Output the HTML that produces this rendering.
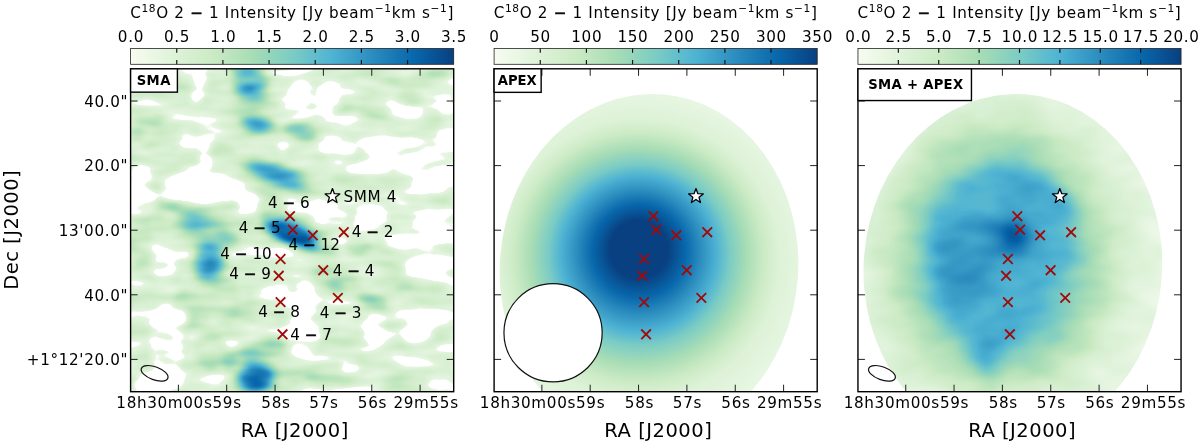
<!DOCTYPE html><html><head><meta charset="utf-8"><title>C18O maps</title><style>html,body{margin:0;padding:0;background:#fff;width:1200px;height:445px;overflow:hidden}svg{display:block}text{font-family:"DejaVu Sans","Liberation Sans",sans-serif;fill:#000}</style></head><body><svg width="1200" height="445" viewBox="0 0 1200 445"><defs><linearGradient id="cbg" x1="0" y1="0" x2="1" y2="0"><stop offset="0.0000" stop-color="#f7fcf0"/><stop offset="0.1250" stop-color="#e0f3db"/><stop offset="0.2500" stop-color="#ccebc5"/><stop offset="0.3750" stop-color="#a8ddb5"/><stop offset="0.5000" stop-color="#7bccc4"/><stop offset="0.6250" stop-color="#4eb3d3"/><stop offset="0.7500" stop-color="#2b8cbe"/><stop offset="0.8750" stop-color="#0868ac"/><stop offset="1.0000" stop-color="#084081"/></linearGradient><clipPath id="clip0"><rect x="130.60" y="68.80" width="323.10" height="322.90"/></clipPath><clipPath id="clip1"><rect x="494.10" y="68.80" width="323.10" height="322.90"/></clipPath><clipPath id="clip2"><rect x="857.95" y="68.80" width="323.10" height="322.90"/></clipPath><g id="xm"><path d="M-4.8 -4.8L4.8 4.8M-4.8 4.8L4.8 -4.8" stroke="#a00a0a" stroke-width="1.8" stroke-linecap="butt"/></g><polygon id="star" points="0.00,-7.70 1.90,-2.62 7.32,-2.38 3.08,1.00 4.53,6.23 0.00,3.23 -4.53,6.23 -3.08,1.00 -7.32,-2.38 -1.90,-2.62" fill="#fff" stroke="#000" stroke-width="1.3" stroke-linejoin="round"/></defs><text x="292.15" y="17.7" font-size="15.2" letter-spacing="0.65" text-anchor="middle">C<tspan font-size="10.6" dy="-5.5">18</tspan><tspan dy="5.5">O 2 <tspan stroke="#000" stroke-width="0.4">−</tspan> 1 Intensity [Jy beam</tspan><tspan font-size="10.6" dy="-5.5">−1</tspan><tspan dy="5.5">km s</tspan><tspan font-size="10.6" dy="-5.5">−1</tspan><tspan dy="5.5">]</tspan></text><rect x="130.60" y="48.50" width="323.10" height="15.80" fill="url(#cbg)" stroke="#222" stroke-width="0.8"/><text x="130.92" y="42.0" font-size="15.2" letter-spacing="0.65" text-anchor="middle">0.0</text><text x="177.08" y="42.0" font-size="15.2" letter-spacing="0.65" text-anchor="middle">0.5</text><path d="M176.76 48.50v4.2M176.76 64.30v-4.2" stroke="#111" stroke-width="1.15"/><text x="223.24" y="42.0" font-size="15.2" letter-spacing="0.65" text-anchor="middle">1.0</text><path d="M222.91 48.50v4.2M222.91 64.30v-4.2" stroke="#111" stroke-width="1.15"/><text x="269.40" y="42.0" font-size="15.2" letter-spacing="0.65" text-anchor="middle">1.5</text><path d="M269.07 48.50v4.2M269.07 64.30v-4.2" stroke="#111" stroke-width="1.15"/><text x="315.55" y="42.0" font-size="15.2" letter-spacing="0.65" text-anchor="middle">2.0</text><path d="M315.23 48.50v4.2M315.23 64.30v-4.2" stroke="#111" stroke-width="1.15"/><text x="361.71" y="42.0" font-size="15.2" letter-spacing="0.65" text-anchor="middle">2.5</text><path d="M361.39 48.50v4.2M361.39 64.30v-4.2" stroke="#111" stroke-width="1.15"/><text x="407.87" y="42.0" font-size="15.2" letter-spacing="0.65" text-anchor="middle">3.0</text><path d="M407.54 48.50v4.2M407.54 64.30v-4.2" stroke="#111" stroke-width="1.15"/><text x="454.03" y="42.0" font-size="15.2" letter-spacing="0.65" text-anchor="middle">3.5</text><text x="655.65" y="17.7" font-size="15.2" letter-spacing="0.65" text-anchor="middle">C<tspan font-size="10.6" dy="-5.5">18</tspan><tspan dy="5.5">O 2 <tspan stroke="#000" stroke-width="0.4">−</tspan> 1 Intensity [Jy beam</tspan><tspan font-size="10.6" dy="-5.5">−1</tspan><tspan dy="5.5">km s</tspan><tspan font-size="10.6" dy="-5.5">−1</tspan><tspan dy="5.5">]</tspan></text><rect x="494.10" y="48.50" width="323.10" height="15.80" fill="url(#cbg)" stroke="#222" stroke-width="0.8"/><text x="494.43" y="42.0" font-size="15.2" letter-spacing="0.65" text-anchor="middle">0</text><text x="540.58" y="42.0" font-size="15.2" letter-spacing="0.65" text-anchor="middle">50</text><path d="M540.26 48.50v4.2M540.26 64.30v-4.2" stroke="#111" stroke-width="1.15"/><text x="586.74" y="42.0" font-size="15.2" letter-spacing="0.65" text-anchor="middle">100</text><path d="M586.41 48.50v4.2M586.41 64.30v-4.2" stroke="#111" stroke-width="1.15"/><text x="632.90" y="42.0" font-size="15.2" letter-spacing="0.65" text-anchor="middle">150</text><path d="M632.57 48.50v4.2M632.57 64.30v-4.2" stroke="#111" stroke-width="1.15"/><text x="679.05" y="42.0" font-size="15.2" letter-spacing="0.65" text-anchor="middle">200</text><path d="M678.73 48.50v4.2M678.73 64.30v-4.2" stroke="#111" stroke-width="1.15"/><text x="725.21" y="42.0" font-size="15.2" letter-spacing="0.65" text-anchor="middle">250</text><path d="M724.89 48.50v4.2M724.89 64.30v-4.2" stroke="#111" stroke-width="1.15"/><text x="771.37" y="42.0" font-size="15.2" letter-spacing="0.65" text-anchor="middle">300</text><path d="M771.04 48.50v4.2M771.04 64.30v-4.2" stroke="#111" stroke-width="1.15"/><text x="817.53" y="42.0" font-size="15.2" letter-spacing="0.65" text-anchor="middle">350</text><text x="1019.50" y="17.7" font-size="15.2" letter-spacing="0.65" text-anchor="middle">C<tspan font-size="10.6" dy="-5.5">18</tspan><tspan dy="5.5">O 2 <tspan stroke="#000" stroke-width="0.4">−</tspan> 1 Intensity [Jy beam</tspan><tspan font-size="10.6" dy="-5.5">−1</tspan><tspan dy="5.5">km s</tspan><tspan font-size="10.6" dy="-5.5">−1</tspan><tspan dy="5.5">]</tspan></text><rect x="857.95" y="48.50" width="323.10" height="15.80" fill="url(#cbg)" stroke="#222" stroke-width="0.8"/><text x="858.28" y="42.0" font-size="15.2" letter-spacing="0.65" text-anchor="middle">0.0</text><text x="898.66" y="42.0" font-size="15.2" letter-spacing="0.65" text-anchor="middle">2.5</text><path d="M898.34 48.50v4.2M898.34 64.30v-4.2" stroke="#111" stroke-width="1.15"/><text x="939.05" y="42.0" font-size="15.2" letter-spacing="0.65" text-anchor="middle">5.0</text><path d="M938.73 48.50v4.2M938.73 64.30v-4.2" stroke="#111" stroke-width="1.15"/><text x="979.44" y="42.0" font-size="15.2" letter-spacing="0.65" text-anchor="middle">7.5</text><path d="M979.11 48.50v4.2M979.11 64.30v-4.2" stroke="#111" stroke-width="1.15"/><text x="1019.83" y="42.0" font-size="15.2" letter-spacing="0.65" text-anchor="middle">10.0</text><path d="M1019.50 48.50v4.2M1019.50 64.30v-4.2" stroke="#111" stroke-width="1.15"/><text x="1060.21" y="42.0" font-size="15.2" letter-spacing="0.65" text-anchor="middle">12.5</text><path d="M1059.89 48.50v4.2M1059.89 64.30v-4.2" stroke="#111" stroke-width="1.15"/><text x="1100.60" y="42.0" font-size="15.2" letter-spacing="0.65" text-anchor="middle">15.0</text><path d="M1100.28 48.50v4.2M1100.28 64.30v-4.2" stroke="#111" stroke-width="1.15"/><text x="1140.99" y="42.0" font-size="15.2" letter-spacing="0.65" text-anchor="middle">17.5</text><path d="M1140.66 48.50v4.2M1140.66 64.30v-4.2" stroke="#111" stroke-width="1.15"/><text x="1181.38" y="42.0" font-size="15.2" letter-spacing="0.65" text-anchor="middle">20.0</text><g clip-path="url(#clip0)"><defs><filter id="cm0" x="120.60" y="58.80" width="343.10" height="342.90" filterUnits="userSpaceOnUse" color-interpolation-filters="sRGB"><feGaussianBlur in="SourceGraphic" stdDeviation="3.2" result="bl"/><feTurbulence type="fractalNoise" baseFrequency="0.022 0.065" numOctaves="2" seed="7" result="tn"/><feColorMatrix in="tn" type="matrix" values="1 0 0 0 0  1 0 0 0 0  1 0 0 0 0  0 0 0 0 1" result="tg"/><feComposite in="bl" in2="tg" operator="arithmetic" k1="0" k2="1" k3="0.450" k4="-0.225"/><feComponentTransfer><feFuncR type="table" tableValues="1.000 1.000 1.000 1.000 1.000 1.000 0.902 0.890 0.878 0.871 0.859 0.847 0.839 0.831 0.820 0.808 0.800 0.784 0.765 0.745 0.729 0.714 0.694 0.675 0.659 0.635 0.616 0.592 0.573 0.549 0.525 0.506 0.482 0.459 0.439 0.416 0.392 0.373 0.349 0.329 0.306 0.290 0.271 0.255 0.235 0.220 0.204 0.184 0.169 0.153 0.133 0.118 0.102 0.082 0.067 0.047 0.031 0.031 0.031 0.031 0.031 0.031 0.031 0.031 0.031"/><feFuncG type="table" tableValues="1.000 1.000 1.000 1.000 1.000 1.000 0.961 0.957 0.953 0.949 0.945 0.941 0.937 0.933 0.929 0.925 0.922 0.914 0.910 0.902 0.894 0.886 0.878 0.875 0.867 0.859 0.851 0.843 0.831 0.824 0.816 0.808 0.800 0.788 0.776 0.765 0.753 0.737 0.725 0.714 0.702 0.682 0.663 0.643 0.627 0.608 0.588 0.569 0.549 0.533 0.514 0.494 0.478 0.463 0.443 0.424 0.408 0.388 0.369 0.349 0.329 0.310 0.290 0.271 0.251"/><feFuncB type="table" tableValues="1.000 1.000 1.000 1.000 1.000 1.000 0.878 0.871 0.859 0.847 0.839 0.827 0.816 0.804 0.792 0.784 0.773 0.765 0.757 0.749 0.741 0.733 0.725 0.718 0.710 0.718 0.725 0.733 0.737 0.745 0.753 0.761 0.769 0.776 0.784 0.792 0.800 0.804 0.812 0.820 0.827 0.816 0.808 0.796 0.784 0.776 0.765 0.757 0.745 0.737 0.729 0.718 0.710 0.702 0.690 0.682 0.675 0.655 0.631 0.612 0.588 0.569 0.549 0.525 0.506"/></feComponentTransfer></filter><radialGradient id="b0_0"><stop offset="0" stop-color="#b2b2b2"/><stop offset="0.5" stop-color="#8b8b8b" stop-opacity="0.95"/><stop offset="1" stop-color="#535353" stop-opacity="0"/></radialGradient><radialGradient id="b0_1"><stop offset="0" stop-color="#b2b2b2"/><stop offset="0.5" stop-color="#8b8b8b" stop-opacity="0.95"/><stop offset="1" stop-color="#535353" stop-opacity="0"/></radialGradient><radialGradient id="b0_2"><stop offset="0" stop-color="#b6b6b6"/><stop offset="0.5" stop-color="#8e8e8e" stop-opacity="0.95"/><stop offset="1" stop-color="#535353" stop-opacity="0"/></radialGradient><radialGradient id="b0_3"><stop offset="0" stop-color="#cccccc"/><stop offset="0.5" stop-color="#9f9f9f" stop-opacity="0.95"/><stop offset="1" stop-color="#535353" stop-opacity="0"/></radialGradient><radialGradient id="b0_4"><stop offset="0" stop-color="#ffffff"/><stop offset="0.5" stop-color="#f9f9f9" stop-opacity="0.95"/><stop offset="1" stop-color="#535353" stop-opacity="0"/></radialGradient><radialGradient id="b0_5"><stop offset="0" stop-color="#cfcfcf"/><stop offset="0.5" stop-color="#a2a2a2" stop-opacity="0.95"/><stop offset="1" stop-color="#535353" stop-opacity="0"/></radialGradient><radialGradient id="b0_6"><stop offset="0" stop-color="#cfcfcf"/><stop offset="0.5" stop-color="#a2a2a2" stop-opacity="0.95"/><stop offset="1" stop-color="#535353" stop-opacity="0"/></radialGradient><radialGradient id="b0_7"><stop offset="0" stop-color="#a3a3a3"/><stop offset="0.5" stop-color="#7f7f7f" stop-opacity="0.95"/><stop offset="1" stop-color="#535353" stop-opacity="0"/></radialGradient><radialGradient id="b0_8"><stop offset="0" stop-color="#999999"/><stop offset="0.5" stop-color="#777777" stop-opacity="0.95"/><stop offset="1" stop-color="#535353" stop-opacity="0"/></radialGradient><radialGradient id="b0_9"><stop offset="0" stop-color="#ffffff"/><stop offset="0.5" stop-color="#d6d6d6" stop-opacity="0.95"/><stop offset="1" stop-color="#535353" stop-opacity="0"/></radialGradient><radialGradient id="b0_10"><stop offset="0" stop-color="#898989"/><stop offset="0.5" stop-color="#6b6b6b" stop-opacity="0.95"/><stop offset="1" stop-color="#535353" stop-opacity="0"/></radialGradient><radialGradient id="b0_11"><stop offset="0" stop-color="#838383"/><stop offset="0.5" stop-color="#666666" stop-opacity="0.95"/><stop offset="1" stop-color="#535353" stop-opacity="0"/></radialGradient><radialGradient id="b0_12"><stop offset="0" stop-color="#898989"/><stop offset="0.5" stop-color="#6b6b6b" stop-opacity="0.95"/><stop offset="1" stop-color="#535353" stop-opacity="0"/></radialGradient><radialGradient id="b0_13"><stop offset="0" stop-color="#868686"/><stop offset="0.5" stop-color="#686868" stop-opacity="0.95"/><stop offset="1" stop-color="#535353" stop-opacity="0"/></radialGradient><radialGradient id="b0_14"><stop offset="0" stop-color="#808080"/><stop offset="0.5" stop-color="#636363" stop-opacity="0.95"/><stop offset="1" stop-color="#535353" stop-opacity="0"/></radialGradient><radialGradient id="b0_15"><stop offset="0" stop-color="#797979"/><stop offset="0.5" stop-color="#5e5e5e" stop-opacity="0.95"/><stop offset="1" stop-color="#535353" stop-opacity="0"/></radialGradient><linearGradient id="p1base" x1="0" y1="0" x2="1" y2="0"><stop offset="0" stop-color="#292929"/><stop offset="0.55" stop-color="#292929"/><stop offset="1" stop-color="#212121"/></linearGradient></defs><g filter="url(#cm0)"><rect x="120.60" y="58.80" width="343.10" height="342.90" fill="url(#p1base)"/><ellipse cx="150.10" cy="119.00" rx="16.00" ry="7.00" fill="#565656" opacity="0.8"/><ellipse cx="161.10" cy="147.00" rx="18.00" ry="8.00" fill="#535353" opacity="0.8"/><ellipse cx="137.10" cy="133.00" rx="8.00" ry="9.00" fill="#535353" opacity="0.8"/><ellipse cx="215.10" cy="99.00" rx="18.00" ry="7.00" fill="#494949" opacity="0.8"/><ellipse cx="374.10" cy="112.00" rx="16.00" ry="8.00" fill="#535353" transform="rotate(10.0 374.10 112.00)" opacity="0.8"/><ellipse cx="410.10" cy="98.00" rx="13.00" ry="7.00" fill="#535353" opacity="0.8"/><ellipse cx="205.10" cy="207.00" rx="38.00" ry="8.00" fill="#535353" opacity="0.8"/><ellipse cx="358.10" cy="246.00" rx="13.00" ry="10.00" fill="#5c5c5c" opacity="0.8"/><ellipse cx="272.10" cy="208.00" rx="14.00" ry="10.00" fill="#606060" opacity="0.8"/><ellipse cx="225.10" cy="300.00" rx="15.00" ry="25.00" fill="#494949" opacity="0.8"/><ellipse cx="230.10" cy="361.00" rx="8.00" ry="10.00" fill="#707070" opacity="0.8"/><ellipse cx="268.10" cy="347.00" rx="18.00" ry="9.00" fill="#737373" opacity="0.8"/><ellipse cx="373.10" cy="301.00" rx="16.00" ry="7.00" fill="#808080" transform="rotate(12.0 373.10 301.00)" opacity="0.8"/><ellipse cx="301.10" cy="132.00" rx="16.00" ry="8.00" fill="#737373" transform="rotate(15.0 301.10 132.00)" opacity="0.8"/><ellipse cx="300.10" cy="235.00" rx="42.00" ry="15.00" fill="#636363" transform="rotate(25.0 300.10 235.00)" opacity="0.8"/><ellipse cx="255.10" cy="104.00" rx="25.00" ry="7.00" fill="#4c4c4c" opacity="0.8"/><ellipse cx="140.10" cy="240.00" rx="12.00" ry="30.00" fill="#494949" opacity="0.8"/><ellipse cx="195.10" cy="305.00" rx="22.00" ry="22.00" fill="#4c4c4c" opacity="0.8"/><ellipse cx="210.10" cy="350.00" rx="16.00" ry="18.00" fill="#505050" opacity="0.8"/><ellipse cx="335.10" cy="280.00" rx="25.00" ry="12.00" fill="#4c4c4c" transform="rotate(15.0 335.10 280.00)" opacity="0.8"/><ellipse cx="420.10" cy="290.00" rx="25.00" ry="10.00" fill="#404040" opacity="0.8"/><ellipse cx="350.10" cy="180.00" rx="18.00" ry="8.00" fill="#464646" opacity="0.8"/><ellipse cx="440.10" cy="190.00" rx="14.00" ry="20.00" fill="#404040" opacity="0.8"/><ellipse cx="330.10" cy="375.00" rx="25.00" ry="12.00" fill="#494949" opacity="0.8"/><ellipse cx="410.10" cy="385.00" rx="30.00" ry="8.00" fill="#404040" opacity="0.8"/><ellipse cx="220.10" cy="150.00" rx="15.00" ry="7.00" fill="#494949" opacity="0.8"/><ellipse cx="165.10" cy="90.00" rx="20.00" ry="8.00" fill="#404040" opacity="0.8"/><ellipse cx="370.10" cy="80.00" rx="30.00" ry="8.00" fill="#404040" opacity="0.8"/><ellipse cx="430.10" cy="75.00" rx="20.00" ry="6.00" fill="#434343" opacity="0.8"/><ellipse cx="199.10" cy="87.00" rx="6.25" ry="17.50" fill="#000" transform="rotate(15.0 199.10 87.00)"/><ellipse cx="198.10" cy="141.00" rx="17.50" ry="7.50" fill="#000"/><ellipse cx="205.10" cy="158.00" rx="6.25" ry="12.50" fill="#000"/><ellipse cx="186.10" cy="131.00" rx="6.25" ry="3.75" fill="#000"/><ellipse cx="301.10" cy="93.00" rx="12.50" ry="12.50" fill="#000"/><ellipse cx="328.10" cy="100.00" rx="12.50" ry="16.25" fill="#000"/><ellipse cx="339.10" cy="150.00" rx="17.50" ry="11.25" fill="#000"/><ellipse cx="283.10" cy="150.00" rx="5.00" ry="6.25" fill="#000"/><ellipse cx="405.10" cy="108.00" rx="20.00" ry="5.62" fill="#000" transform="rotate(25.0 405.10 108.00)"/><ellipse cx="388.10" cy="144.00" rx="30.00" ry="8.75" fill="#000"/><ellipse cx="427.10" cy="166.00" rx="32.50" ry="12.50" fill="#000"/><ellipse cx="434.10" cy="184.00" rx="22.50" ry="10.00" fill="#000"/><ellipse cx="368.10" cy="170.00" rx="22.50" ry="7.50" fill="#000"/><ellipse cx="370.10" cy="218.00" rx="16.25" ry="13.75" fill="#000"/><ellipse cx="446.10" cy="133.00" rx="10.00" ry="11.25" fill="#000"/><ellipse cx="446.10" cy="110.00" rx="7.50" ry="10.00" fill="#000"/><ellipse cx="203.10" cy="189.00" rx="42.50" ry="16.25" fill="#000"/><ellipse cx="142.10" cy="202.00" rx="15.00" ry="15.00" fill="#000"/><ellipse cx="141.10" cy="177.00" rx="12.50" ry="11.25" fill="#000"/><ellipse cx="164.10" cy="267.00" rx="12.50" ry="13.75" fill="#000"/><ellipse cx="247.10" cy="199.00" rx="11.25" ry="10.00" fill="#000"/><ellipse cx="332.10" cy="217.00" rx="17.50" ry="8.75" fill="#000"/><ellipse cx="323.10" cy="212.00" rx="12.50" ry="15.00" fill="#000"/><ellipse cx="436.10" cy="224.00" rx="22.50" ry="8.75" fill="#000"/><ellipse cx="403.10" cy="241.00" rx="20.00" ry="8.75" fill="#000"/><ellipse cx="432.10" cy="262.00" rx="26.25" ry="7.50" fill="#000"/><ellipse cx="166.10" cy="345.00" rx="16.25" ry="40.00" fill="#000"/><ellipse cx="158.10" cy="383.00" rx="25.00" ry="11.25" fill="#000"/><ellipse cx="178.10" cy="318.00" rx="10.00" ry="10.00" fill="#000"/><ellipse cx="301.10" cy="337.00" rx="18.75" ry="21.25" fill="#000"/><ellipse cx="278.10" cy="295.00" rx="26.25" ry="7.50" fill="#000"/><ellipse cx="374.10" cy="328.00" rx="11.25" ry="16.25" fill="#000"/><ellipse cx="418.10" cy="333.00" rx="16.25" ry="13.75" fill="#000"/><ellipse cx="425.10" cy="270.00" rx="22.50" ry="6.25" fill="#000"/><ellipse cx="420.10" cy="240.00" rx="27.50" ry="7.50" fill="#000"/><ellipse cx="440.10" cy="380.00" rx="12.50" ry="10.00" fill="#000"/><ellipse cx="350.10" cy="365.00" rx="10.00" ry="7.50" fill="#000"/><ellipse cx="300.10" cy="345.00" rx="12.50" ry="7.50" fill="#000"/><ellipse cx="305.10" cy="300.00" rx="11.25" ry="17.50" fill="#000"/><ellipse cx="300.10" cy="332.00" rx="16.25" ry="18.75" fill="#000"/><ellipse cx="205.10" cy="232.00" rx="39.00" ry="21.00" fill="url(#b0_15)" transform="rotate(15.0 205.10 232.00)"/><ellipse cx="270.10" cy="347.00" rx="24.00" ry="12.00" fill="url(#b0_14)"/><ellipse cx="301.10" cy="131.00" rx="21.00" ry="10.50" fill="url(#b0_11)" transform="rotate(15.0 301.10 131.00)"/><ellipse cx="337.10" cy="286.00" rx="15.00" ry="9.00" fill="url(#b0_13)" transform="rotate(20.0 337.10 286.00)"/><ellipse cx="252.10" cy="352.00" rx="21.00" ry="12.00" fill="url(#b0_10)"/><ellipse cx="373.10" cy="302.00" rx="22.50" ry="9.00" fill="url(#b0_12)" transform="rotate(15.0 373.10 302.00)"/><ellipse cx="224.10" cy="238.00" rx="19.50" ry="10.50" fill="url(#b0_8)" transform="rotate(15.0 224.10 238.00)"/><ellipse cx="195.10" cy="222.00" rx="27.00" ry="13.50" fill="url(#b0_7)" transform="rotate(10.0 195.10 222.00)"/><ellipse cx="250.10" cy="86.00" rx="24.00" ry="24.00" fill="url(#b0_0)" transform="rotate(20.0 250.10 86.00)"/><ellipse cx="247.10" cy="72.00" rx="27.00" ry="12.00" fill="url(#b0_1)" transform="rotate(20.0 247.10 72.00)"/><ellipse cx="258.10" cy="124.00" rx="24.00" ry="12.00" fill="url(#b0_2)" transform="rotate(5.0 258.10 124.00)"/><ellipse cx="277.10" cy="175.00" rx="51.00" ry="16.50" fill="url(#b0_3)" transform="rotate(21.0 277.10 175.00)"/><ellipse cx="306.10" cy="242.00" rx="21.00" ry="10.50" fill="url(#b0_5)" transform="rotate(25.0 306.10 242.00)"/><ellipse cx="209.10" cy="262.00" rx="22.50" ry="30.00" fill="url(#b0_6)" transform="rotate(5.0 209.10 262.00)"/><ellipse cx="256.10" cy="377.00" rx="28.50" ry="22.50" fill="url(#b0_9)"/><ellipse cx="291.10" cy="233.00" rx="37.50" ry="15.00" fill="url(#b0_4)" transform="rotate(18.0 291.10 233.00)"/></g></g><path d="M178.40 391.70v-7M226.70 391.70v-7M226.70 68.80v7M275.05 391.70v-7M275.05 68.80v7M323.40 391.70v-7M323.40 68.80v7M371.75 391.70v-7M371.75 68.80v7M420.10 391.70v-7M420.10 68.80v7M130.60 101.00h7M453.70 101.00h-7M130.60 165.60h7M453.70 165.60h-7M130.60 230.20h7M453.70 230.20h-7M130.60 294.80h7M453.70 294.80h-7M130.60 359.40h7M453.70 359.40h-7" stroke="#222" stroke-width="1"/><use href="#xm" x="289.95" y="216.20"/><use href="#xm" x="292.75" y="229.70"/><use href="#xm" x="312.75" y="235.30"/><use href="#xm" x="343.75" y="232.20"/><use href="#xm" x="280.55" y="259.00"/><use href="#xm" x="278.75" y="275.80"/><use href="#xm" x="323.25" y="270.20"/><use href="#xm" x="280.55" y="302.10"/><use href="#xm" x="337.85" y="297.90"/><use href="#xm" x="282.55" y="334.30"/><use href="#star" x="332.45" y="196.30"/><ellipse cx="154.60" cy="373.3" rx="14.1" ry="6.5" transform="rotate(20.2 154.60 373.3)" fill="none" stroke="#111" stroke-width="1.2"/><text x="288.80" y="207.80" font-size="15.2" letter-spacing="0.00" text-anchor="middle">4 <tspan stroke="#000" stroke-width="0.45">−</tspan> 6</text><text x="370.28" y="201.90" font-size="15.2" letter-spacing="0.65" text-anchor="middle">SMM 4</text><text x="259.70" y="233.30" font-size="15.2" letter-spacing="0.00" text-anchor="middle">4 <tspan stroke="#000" stroke-width="0.45">−</tspan> 5</text><text x="372.65" y="236.75" font-size="15.2" letter-spacing="0.00" text-anchor="middle">4 <tspan stroke="#000" stroke-width="0.45">−</tspan> 2</text><text x="314.12" y="250.00" font-size="15.2" letter-spacing="0.00" text-anchor="middle">4 <tspan stroke="#000" stroke-width="0.45">−</tspan> 12</text><text x="246.03" y="259.30" font-size="15.2" letter-spacing="0.00" text-anchor="middle">4 <tspan stroke="#000" stroke-width="0.45">−</tspan> 10</text><text x="250.15" y="278.80" font-size="15.2" letter-spacing="0.00" text-anchor="middle">4 <tspan stroke="#000" stroke-width="0.45">−</tspan> 9</text><text x="353.50" y="275.50" font-size="15.2" letter-spacing="0.00" text-anchor="middle">4 <tspan stroke="#000" stroke-width="0.45">−</tspan> 4</text><text x="279.05" y="317.30" font-size="15.2" letter-spacing="0.00" text-anchor="middle">4 <tspan stroke="#000" stroke-width="0.45">−</tspan> 8</text><text x="340.55" y="317.60" font-size="15.2" letter-spacing="0.00" text-anchor="middle">4 <tspan stroke="#000" stroke-width="0.45">−</tspan> 3</text><text x="311.15" y="340.00" font-size="15.2" letter-spacing="0.00" text-anchor="middle">4 <tspan stroke="#000" stroke-width="0.45">−</tspan> 7</text><rect x="130.60" y="68.80" width="323.10" height="322.90" fill="none" stroke="#000" stroke-width="1.4"/><rect x="130.60" y="68.80" width="46.80" height="23.35" fill="#fff" stroke="#000" stroke-width="1.4"/><text x="153.72" y="85.20" font-size="13.2" font-weight="bold" letter-spacing="0.45" text-anchor="middle">SMA</text><text x="164.42" y="408.3" font-size="15.2" letter-spacing="0.65" text-anchor="middle">18h30m00s</text><text x="227.12" y="408.3" font-size="15.2" letter-spacing="0.65" text-anchor="middle">59s</text><text x="275.93" y="408.3" font-size="15.2" letter-spacing="0.65" text-anchor="middle">58s</text><text x="323.93" y="408.3" font-size="15.2" letter-spacing="0.65" text-anchor="middle">57s</text><text x="372.43" y="408.3" font-size="15.2" letter-spacing="0.65" text-anchor="middle">56s</text><text x="426.12" y="408.3" font-size="15.2" letter-spacing="0.65" text-anchor="middle">29m55s</text><text x="294.80" y="436.7" font-size="19.5" letter-spacing="0.5" text-anchor="middle">RA [J2000]</text><g clip-path="url(#clip1)"><defs><clipPath id="ell1"><ellipse cx="649.00" cy="267.40" rx="149.20" ry="173.60" transform="rotate(4.30 649.00 267.40)"/></clipPath><radialGradient id="g2" gradientUnits="userSpaceOnUse" cx="638.85" cy="263.00" fx="638.85" fy="247.00" r="190.0"><stop offset="0.0000" stop-color="#084081"/><stop offset="0.1526" stop-color="#084081"/><stop offset="0.2474" stop-color="#0868ac"/><stop offset="0.3237" stop-color="#2b8cbe"/><stop offset="0.4105" stop-color="#4eb3d3"/><stop offset="0.4789" stop-color="#7bccc4"/><stop offset="0.5684" stop-color="#a8ddb5"/><stop offset="0.6579" stop-color="#ccebc5"/><stop offset="0.7368" stop-color="#ddf2d7"/><stop offset="0.8684" stop-color="#e6f6e1"/><stop offset="1.0000" stop-color="#eef8e8"/></radialGradient></defs><g clip-path="url(#ell1)"><rect x="494.10" y="0" width="330" height="400" fill="url(#g2)"/></g></g><path d="M541.90 391.70v-7M541.90 68.80v7M590.20 391.70v-7M590.20 68.80v7M638.55 391.70v-7M638.55 68.80v7M686.90 391.70v-7M686.90 68.80v7M735.25 391.70v-7M735.25 68.80v7M783.60 391.70v-7M783.60 68.80v7M494.10 101.00h7M817.20 101.00h-7M494.10 165.60h7M817.20 165.60h-7M494.10 230.20h7M817.20 230.20h-7M494.10 294.80h7M817.20 294.80h-7M494.10 359.40h7M817.20 359.40h-7" stroke="#222" stroke-width="1"/><use href="#xm" x="653.45" y="216.20"/><use href="#xm" x="656.25" y="229.70"/><use href="#xm" x="676.25" y="235.30"/><use href="#xm" x="707.25" y="232.20"/><use href="#xm" x="644.05" y="259.00"/><use href="#xm" x="642.25" y="275.80"/><use href="#xm" x="686.75" y="270.20"/><use href="#xm" x="644.05" y="302.10"/><use href="#xm" x="701.35" y="297.90"/><use href="#xm" x="646.05" y="334.30"/><use href="#star" x="695.95" y="196.30"/><circle cx="553.05" cy="332.8" r="49.1" fill="#fff" stroke="#111" stroke-width="1.2"/><rect x="494.10" y="68.80" width="323.10" height="322.90" fill="none" stroke="#000" stroke-width="1.4"/><rect x="494.10" y="68.80" width="47.05" height="23.55" fill="#fff" stroke="#000" stroke-width="1.4"/><text x="517.23" y="85.20" font-size="13.2" font-weight="bold" letter-spacing="0.00" text-anchor="middle">APEX</text><text x="527.93" y="408.3" font-size="15.2" letter-spacing="0.65" text-anchor="middle">18h30m00s</text><text x="590.62" y="408.3" font-size="15.2" letter-spacing="0.65" text-anchor="middle">59s</text><text x="639.43" y="408.3" font-size="15.2" letter-spacing="0.65" text-anchor="middle">58s</text><text x="687.43" y="408.3" font-size="15.2" letter-spacing="0.65" text-anchor="middle">57s</text><text x="735.93" y="408.3" font-size="15.2" letter-spacing="0.65" text-anchor="middle">56s</text><text x="789.62" y="408.3" font-size="15.2" letter-spacing="0.65" text-anchor="middle">29m55s</text><text x="658.30" y="436.7" font-size="19.5" letter-spacing="0.5" text-anchor="middle">RA [J2000]</text><g clip-path="url(#clip2)"><defs><clipPath id="ell2"><ellipse cx="1012.85" cy="267.40" rx="149.20" ry="173.60" transform="rotate(4.30 1012.85 267.40)"/></clipPath><radialGradient id="g3" gradientUnits="userSpaceOnUse" cx="0" cy="0" r="175.0" gradientTransform="translate(999.95 258.00) scale(1 1.2)"><stop offset="0.0000" stop-color="#939393"/><stop offset="0.3429" stop-color="#8c8c8c"/><stop offset="0.4571" stop-color="#767676"/><stop offset="0.5429" stop-color="#5c5c5c"/><stop offset="0.6286" stop-color="#464646"/><stop offset="0.7143" stop-color="#2d2d2d"/><stop offset="0.8286" stop-color="#1d1d1d"/><stop offset="1.0000" stop-color="#101010"/></radialGradient><filter id="cm2" x="847.95" y="58.80" width="343.10" height="342.90" filterUnits="userSpaceOnUse" color-interpolation-filters="sRGB"><feGaussianBlur in="SourceGraphic" stdDeviation="8.00" result="bl"/><feTurbulence type="fractalNoise" baseFrequency="0.025 0.045" numOctaves="2" seed="5" result="tn"/><feColorMatrix in="tn" type="matrix" values="1 0 0 0 0  1 0 0 0 0  1 0 0 0 0  0 0 0 0 1" result="tg"/><feComposite in="bl" in2="tg" operator="arithmetic" k1="0" k2="1" k3="0.160" k4="-0.080"/><feComponentTransfer><feFuncR type="table" tableValues="0.969 0.957 0.945 0.933 0.925 0.914 0.902 0.890 0.878 0.871 0.859 0.847 0.839 0.831 0.820 0.808 0.800 0.784 0.765 0.745 0.729 0.714 0.694 0.675 0.659 0.635 0.616 0.592 0.573 0.549 0.525 0.506 0.482 0.459 0.439 0.416 0.392 0.373 0.349 0.329 0.306 0.290 0.271 0.255 0.235 0.220 0.204 0.184 0.169 0.153 0.133 0.118 0.102 0.082 0.067 0.047 0.031 0.031 0.031 0.031 0.031 0.031 0.031 0.031 0.031"/><feFuncG type="table" tableValues="0.988 0.984 0.980 0.976 0.973 0.965 0.961 0.957 0.953 0.949 0.945 0.941 0.937 0.933 0.929 0.925 0.922 0.914 0.910 0.902 0.894 0.886 0.878 0.875 0.867 0.859 0.851 0.843 0.831 0.824 0.816 0.808 0.800 0.788 0.776 0.765 0.753 0.737 0.725 0.714 0.702 0.682 0.663 0.643 0.627 0.608 0.588 0.569 0.549 0.533 0.514 0.494 0.478 0.463 0.443 0.424 0.408 0.388 0.369 0.349 0.329 0.310 0.290 0.271 0.251"/><feFuncB type="table" tableValues="0.941 0.929 0.922 0.910 0.902 0.890 0.878 0.871 0.859 0.847 0.839 0.827 0.816 0.804 0.792 0.784 0.773 0.765 0.757 0.749 0.741 0.733 0.725 0.718 0.710 0.718 0.725 0.733 0.737 0.745 0.753 0.761 0.769 0.776 0.784 0.792 0.800 0.804 0.812 0.820 0.827 0.816 0.808 0.796 0.784 0.776 0.765 0.757 0.745 0.737 0.729 0.718 0.710 0.702 0.690 0.682 0.675 0.655 0.631 0.612 0.588 0.569 0.549 0.525 0.506"/></feComponentTransfer></filter></defs><g clip-path="url(#ell2)"><g filter="url(#cm2)"><rect x="847.95" y="58.80" width="343.10" height="342.90" fill="url(#g3)"/><polygon points="985.0,166.0 1040.0,170.0 1060.0,186.0 1070.0,205.0 1074.0,240.0 1063.0,280.0 1048.0,310.0 1026.0,338.0 1005.0,352.0 992.0,374.0 982.0,374.0 968.0,345.0 950.0,322.0 932.0,295.0 926.0,250.0 933.0,212.0 955.0,190.0" fill="#a4a4a4"/><ellipse cx="965.95" cy="262.00" rx="28.00" ry="45.00" fill="#b9b9b9" opacity="0.8"/><ellipse cx="1049.95" cy="285.00" rx="14.00" ry="30.00" fill="#939393" opacity="0.5"/><ellipse cx="959.95" cy="200.00" rx="18.00" ry="12.00" fill="#939393" opacity="0.6"/><ellipse cx="1007.95" cy="236.00" rx="26.00" ry="20.00" fill="#c6c6c6" transform="rotate(10.0 1007.95 236.00)" opacity="0.8"/><ellipse cx="1012.95" cy="235.00" rx="13.00" ry="11.00" fill="#f5f5f5" transform="rotate(10.0 1012.95 235.00)"/></g></g></g><path d="M905.75 391.70v-7M905.75 68.80v7M954.05 391.70v-7M954.05 68.80v7M1002.40 391.70v-7M1002.40 68.80v7M1050.75 391.70v-7M1050.75 68.80v7M1099.10 391.70v-7M1099.10 68.80v7M1147.45 391.70v-7M1147.45 68.80v7M857.95 101.00h7M1181.05 101.00h-7M857.95 165.60h7M1181.05 165.60h-7M857.95 230.20h7M1181.05 230.20h-7M857.95 294.80h7M1181.05 294.80h-7M857.95 359.40h7M1181.05 359.40h-7" stroke="#222" stroke-width="1"/><use href="#xm" x="1017.30" y="216.20"/><use href="#xm" x="1020.10" y="229.70"/><use href="#xm" x="1040.10" y="235.30"/><use href="#xm" x="1071.10" y="232.20"/><use href="#xm" x="1007.90" y="259.00"/><use href="#xm" x="1006.10" y="275.80"/><use href="#xm" x="1050.60" y="270.20"/><use href="#xm" x="1007.90" y="302.10"/><use href="#xm" x="1065.20" y="297.90"/><use href="#xm" x="1009.90" y="334.30"/><use href="#star" x="1059.80" y="196.30"/><ellipse cx="881.95" cy="373.3" rx="14.1" ry="6.5" transform="rotate(20.2 881.95 373.3)" fill="none" stroke="#111" stroke-width="1.2"/><rect x="857.95" y="68.80" width="323.10" height="322.90" fill="none" stroke="#000" stroke-width="1.4"/><rect x="857.95" y="68.80" width="113.50" height="31.75" fill="#fff" stroke="#000" stroke-width="1.4"/><text x="915.85" y="88.90" font-size="13.2" font-weight="bold" letter-spacing="0.30" text-anchor="middle">SMA + APEX</text><text x="891.78" y="408.3" font-size="15.2" letter-spacing="0.65" text-anchor="middle">18h30m00s</text><text x="954.48" y="408.3" font-size="15.2" letter-spacing="0.65" text-anchor="middle">59s</text><text x="1003.28" y="408.3" font-size="15.2" letter-spacing="0.65" text-anchor="middle">58s</text><text x="1051.28" y="408.3" font-size="15.2" letter-spacing="0.65" text-anchor="middle">57s</text><text x="1099.78" y="408.3" font-size="15.2" letter-spacing="0.65" text-anchor="middle">56s</text><text x="1153.48" y="408.3" font-size="15.2" letter-spacing="0.65" text-anchor="middle">29m55s</text><text x="1022.15" y="436.7" font-size="19.5" letter-spacing="0.5" text-anchor="middle">RA [J2000]</text><text x="128.2" y="106.80" font-size="15.2" letter-spacing="0.65" text-anchor="end">40.0"</text><text x="128.2" y="171.40" font-size="15.2" letter-spacing="0.65" text-anchor="end">20.0"</text><text x="128.2" y="236.00" font-size="15.2" letter-spacing="0.65" text-anchor="end">13'00.0"</text><text x="128.2" y="300.60" font-size="15.2" letter-spacing="0.65" text-anchor="end">40.0"</text><text x="128.2" y="365.20" font-size="15.2" letter-spacing="0.65" text-anchor="end">+1°12'20.0"</text><text transform="translate(18.3 229.8) rotate(-90)" font-size="19.5" letter-spacing="0.5" text-anchor="middle">Dec [J2000]</text></svg></body></html>
